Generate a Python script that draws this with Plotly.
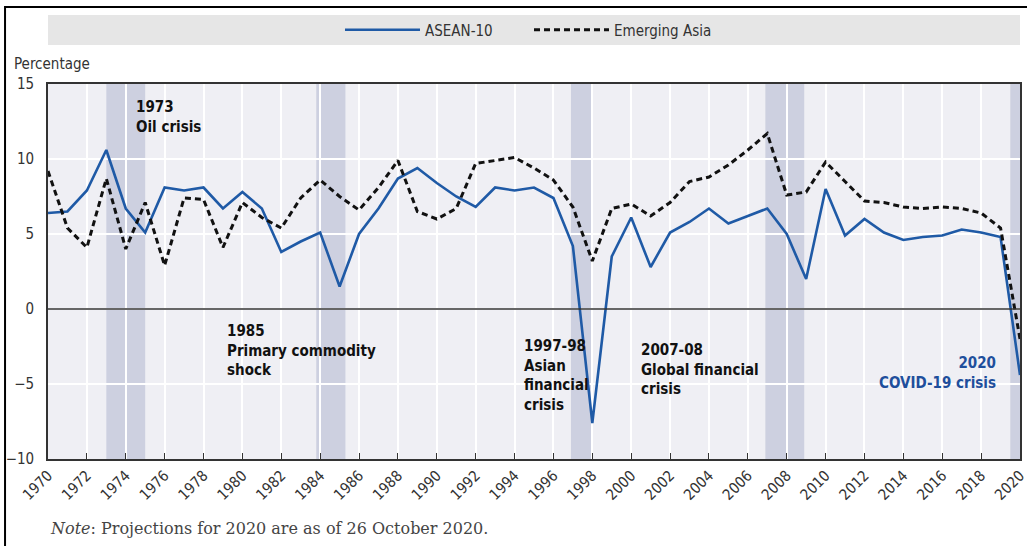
import plotly.graph_objects as go

years = list(range(1970, 2021))
asean10 = [6.4, 6.5, 7.9, 10.6, 6.7, 5.1, 8.1, 7.9, 8.1, 6.7,
           7.8, 6.7, 3.8, 4.5, 5.1, 1.5, 5.0, 6.7, 8.7, 9.4,
           8.4, 7.5, 6.8, 8.1, 7.9, 8.1, 7.4, 4.2, -7.6, 3.5,
           6.1, 2.8, 5.1, 5.8, 6.7, 5.7, 6.2, 6.7, 5.0, 2.0,
           8.0, 4.9, 6.0, 5.1, 4.6, 4.8, 4.9, 5.3, 5.1, 4.8,
           -4.4]
emerging_asia = [9.2, 5.4, 4.1, 8.7, 4.0, 7.1, 2.9, 7.4, 7.3, 4.1,
                 7.1, 6.1, 5.4, 7.4, 8.6, 7.5, 6.6, 8.1, 9.9, 6.5,
                 6.0, 6.7, 9.7, 9.9, 10.1, 9.4, 8.6, 6.8, 3.2, 6.7,
                 7.0, 6.2, 7.1, 8.5, 8.8, 9.6, 10.6, 11.7, 7.6, 7.8,
                 9.8, 8.5, 7.2, 7.1, 6.8, 6.7, 6.8, 6.7, 6.4, 5.4,
                 -2.0]
crisis_bands = [(1973.0, 1975.0), (1983.8, 1985.3), (1996.9, 1998.0),
                (2006.9, 2008.9), (2019.5, 2020.0)]
crisis_labels = [
    ("<b>1973<br>Oil crisis</b>", 1974.4, 14.2, "left", "#111111"),
    ("<b>1985<br>Primary commodity<br>shock</b>", 1979.1, -0.7, "left", "#111111"),
    ("<b>1997-98<br>Asian<br>financial<br>crisis</b>", 1994.4, -1.75, "left", "#111111"),
    ("<b>2007-08<br>Global financial<br>crisis</b>", 2000.4, -2.0, "left", "#111111"),
    ("<b>2020<br>COVID-19 crisis</b>", 2018.85, -2.85, "right", "#1f4f9c"),
]
x_ticks = list(range(1970, 2021, 2))
y_ticks = [-10, -5, 0, 5, 10, 15]

NARROW = "Liberation Sans Narrow, Arial Narrow, DejaVu Sans Condensed, sans-serif"

fig = go.Figure()
fig.add_trace(go.Scatter(x=years, y=asean10, mode="lines", name="ASEAN-10",
                         line=dict(color="#1f5aa6", width=2.6)))
fig.add_trace(go.Scatter(x=years, y=emerging_asia, mode="lines", name="Emerging Asia",
                         line=dict(color="#111111", width=3, dash="6px,4px")))

for x0, x1 in crisis_bands:
    fig.add_shape(type="rect", xref="x", yref="y", x0=x0, x1=x1, y0=-10, y1=15,
                  fillcolor="#cdd0e0", line_width=0, layer="below")

# zero line
fig.add_shape(type="line", xref="paper", yref="y", x0=0, x1=1, y0=0, y1=0,
              line=dict(color="#333333", width=1.6))

# legend background band
fig.add_shape(type="rect", xref="paper", yref="paper", x0=0, x1=1, y0=1.104, y1=1.184,
              fillcolor="#e6e6e6", line_width=0, layer="below")
# outer frame
fig.add_shape(type="rect", xref="paper", yref="paper", x0=-0.0442, x1=1.02,
              y0=-0.25, y1=1.2053, line=dict(color="#000000", width=2))

for text, x, y, anchor, color in crisis_labels:
    fig.add_annotation(text=text, x=x, y=y, xref="x", yref="y", xanchor=anchor,
                       yanchor="top", align=anchor, showarrow=False,
                       font=dict(family=NARROW, size=15, color=color))

fig.add_annotation(text="Percentage", xref="paper", yref="paper", x=-0.037, y=1.053,
                   xanchor="left", yanchor="middle", showarrow=False,
                   font=dict(family=NARROW, size=15, color="#333333"))
fig.add_annotation(text="<i>Note</i>: Projections for 2020 are as of 26 October 2020.",
                   xref="paper", yref="paper", x=0.0, y=-0.184, xanchor="left",
                   yanchor="middle", showarrow=False,
                   font=dict(family="DejaVu Serif, Liberation Serif, serif", size=16,
                             color="#444444"))

fig.update_layout(
    width=1027, height=546,
    margin=dict(l=48, r=7, t=84, b=87, autoexpand=False),
    paper_bgcolor="white", plot_bgcolor="#efeff4",
    showlegend=True,
    legend=dict(orientation="h", x=0.3004, xanchor="left", y=1.144, yanchor="middle",
                bgcolor="rgba(0,0,0,0)", font=dict(family=NARROW, size=15, color="#333333"),
                itemwidth=75, entrywidth=99, traceorder="normal"),
    xaxis=dict(range=[1970, 2020], tickvals=x_ticks, ticktext=[str(t) for t in x_ticks],
               tickangle=-45, showgrid=True, gridcolor="white", gridwidth=2,
               showline=True, mirror=True, linecolor="#333333", linewidth=1.6,
               ticks="inside", ticklen=6, tickcolor="#333333", automargin=False,
               ticklabeloverflow="allow",
               tickfont=dict(family=NARROW, size=15, color="#333333"), zeroline=False),
    yaxis=dict(range=[-10, 15], tickvals=y_ticks, showgrid=True, gridcolor="white",
               gridwidth=2, showline=True, mirror=True, linecolor="#333333", linewidth=1.6,
               ticks="", zeroline=False, ticklabelstandoff=9, automargin=False,
               ticklabeloverflow="allow",
               tickfont=dict(family=NARROW, size=15, color="#333333")),
)

fig.write_html("out.html", config={"displayModeBar": False},
               post_script="document.body.style.margin='0';")
